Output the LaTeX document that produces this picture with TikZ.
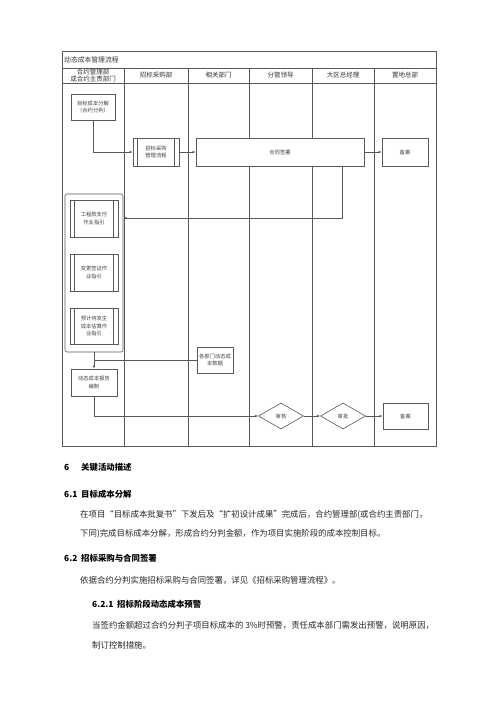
\documentclass[tikz,border=0pt]{standalone}
\usepackage{fontspec}
\setmainfont{Noto Sans CJK SC}
\usetikzlibrary{arrows.meta,shapes.geometric}
\begin{document}
\begin{tikzpicture}[x=1pt,y=-1pt,
  ln/.style={draw=black!65,line width=0.6pt},
  box/.style={ln,fill=white,rectangle,inner sep=0pt,align=center,font=\fontsize{5.3}{7.5}\selectfont,text=black!75},
  dia/.style={ln,fill=white,diamond,aspect=1.75,inner sep=0pt,minimum width=45pt,minimum height=26pt,font=\fontsize{5.3}{7}\selectfont,text=black!75},
  hd/.style={font=\fontsize{6.5}{7.2}\selectfont,text=black!80,align=center,inner sep=0pt},
  arr/.style={ln,-{Latex[length=3.2pt,width=2.6pt]}},
  body/.style={anchor=base west,inner sep=0pt,font=\fontsize{8.4}{10}\selectfont,text=black!85},
  headb/.style={anchor=base west,inner sep=0pt,font=\fontsize{8.4}{10}\selectfont\bfseries}
]
\useasboundingbox (0,0) rectangle (500,708);
% frame
\draw[ln] (62,51) rectangle (436,446);
\draw[ln] (62,68) -- (436,68);
\draw[ln] (62,83) -- (436,83);
\foreach \x in {124,188,249,312,374} \draw[ln] (\x,68) -- (\x,446);
\node[anchor=west,inner sep=0pt,font=\fontsize{6.8}{8}\selectfont,text=black!80] (title) at (64,60) {动态成本管理流程};
\node[hd] (h1) at (93,75.5) {合约管理部\\或合约主责部门};
\node[hd] (h2) at (156,75.5) {招标采购部};
\node[hd] (h3) at (218.5,75.5) {相关部门};
\node[hd] (h4) at (280.5,75.5) {分管领导};
\node[hd] (h5) at (343,75.5) {大区总经理};
\node[hd] (h6) at (405,75.5) {置地总部};
% nodes
\node[box,minimum width=44pt,minimum height=26pt] (mb) at (93,107) {目标成本分解\\（合约分判）};
\node[box,minimum width=46pt,minimum height=28pt] (zb) at (156,152) {招标采购\\管理流程};
\draw[ln] ([xshift=5pt]zb.north west) -- ([xshift=5pt]zb.south west);
\draw[ln] ([xshift=-5pt]zb.north east) -- ([xshift=-5pt]zb.south east);
\node[box,minimum width=168pt,minimum height=28pt] (ht) at (280,152) {合同签署};
\node[box,minimum width=46pt,minimum height=28pt] (ba1) at (405,152) {备案};
% group
\node[ln,rounded corners=2pt,minimum width=58pt,minimum height=158pt,inner sep=0pt] (grp) at (94,273) {};
\node[box,minimum width=48pt,minimum height=37pt] (g1) at (94,218.5) {工程款支付\\作业指引};
\node[box,minimum width=48pt,minimum height=37pt] (g2) at (94,272.5) {变更签证作\\业指引};
\node[box,minimum width=48pt,minimum height=36pt] (g3) at (94,326) {预计待发生\\成本估算作\\业指引};
\foreach \n in {g1,g2,g3}{
  \draw[ln] ([xshift=5pt]\n.north west) -- ([xshift=5pt]\n.south west);
  \draw[ln] ([xshift=-5pt]\n.north east) -- ([xshift=-5pt]\n.south east);
}
\node[box,minimum width=36pt,minimum height=26pt] (sj) at (215,360) {各部门动态成\\本数据};
\node[box,minimum width=46pt,minimum height=27pt] (bg) at (94,382.5) {动态成本报告\\编制};
\node[dia] (sh) at (281,416) {审核};
\node[dia] (sp) at (343,416) {审批};
\node[box,minimum width=45pt,minimum height=26pt] (ba2) at (405.5,416) {备案};
% connectors
\draw[arr] (mb.south) |- (zb.west);
\draw[arr] (zb.east) -- (ht.west);
\draw[arr] (ht.east) -- (ba1.west);
\coordinate (gin) at (grp.east |- 0,218);
\draw[arr] ([xshift=62pt]ht.south) |- (gin);
\draw[arr] (grp.south) -- (bg.north);
\coordinate (jn) at (grp.south |- sj.west);
\draw[ln] (sj.west) -- (jn);
\draw[arr] (bg.south) |- (sh.west);
\draw[arr] (sh.east) -- (sp.west);
\draw[arr] (sp.east) -- (ba2.west);
% text below
\node[headb] (t6) at (64,470) {6};
\node[headb] (t6t) at (81,470) {关键活动描述};
\node[headb] (t61) at (64,497) {6.1};
\node[headb] (t61t) at (81,497) {目标成本分解};
\node[body] (p1) at (80,517) {在项目“目标成本批复书”下发后及“扩初设计成果”完成后，合约管理部(或合约主责部门，};
\node[body] (p2) at (80,536) {下同)完成目标成本分解，形成合约分判金额，作为项目实施阶段的成本控制目标。};
\node[headb] (t62) at (64,561) {6.2};
\node[headb] (t62t) at (81,561) {招标采购与合同签署};
\node[body] (p3) at (80,583) {依据合约分判实施招标采购与合同签署，详见《招标采购管理流程》。};
\node[headb] (t621) at (92,607) {6.2.1};
\node[headb] (t621t) at (117,607) {招标阶段动态成本预警};
\node[body] (p4) at (92,628) {当签约金额超过合约分判子项目标成本的 3\%时预警，责任成本部门需发出预警，说明原因，};
\node[body] (p5) at (92,648) {制订控制措施。};
\end{tikzpicture}
\end{document}
